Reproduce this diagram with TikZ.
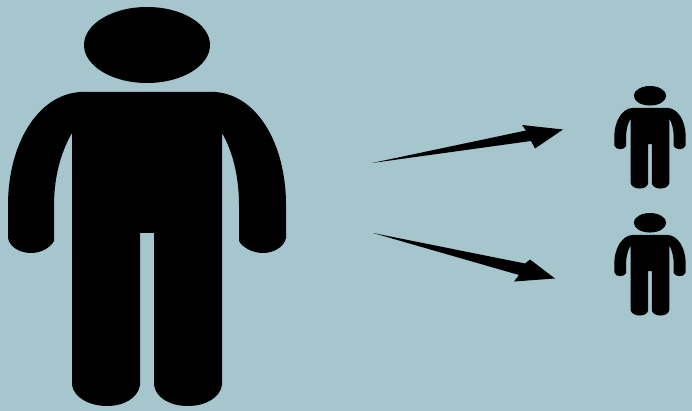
\documentclass[tikz,border=0pt]{standalone}
\usepackage{tikz}
\usetikzlibrary{arrows.meta,positioning,calc}
\definecolor{bgblue}{RGB}{166,198,206}

\begin{document}
\begin{tikzpicture}[x=1pt,y=-1pt]
\tikzstyle{fig}=[fill=black,draw=none]
\fill[bgblue] (0,0) rectangle (692,411);
\useasboundingbox (0,0) rectangle (692,411);
% big person first, then the two small ones
\foreach \dx/\dy/\s in {0/0/1,612.2/84.2/0.257,612.2/211.2/0.257}{
\begin{scope}[shift={(\dx,\dy)},scale=\s]
\fill[fig] (147,45) ellipse [x radius=63,y radius=38];
\fill[fig] (80,92) -- (215,92)
  .. controls (258,95) and (286,145) .. (286,205) -- (286,238)
  .. controls (284,248) and (272,253) .. (263,253)
  .. controls (253,253) and (243,248) .. (239,241) -- (239,205)
  .. controls (239,175) and (232,150) .. (222,133) -- (222,385)
  .. controls (220,398) and (205,406) .. (188,406)
  .. controls (170,406) and (156,398) .. (154,385) -- (154,233) -- (140,233) -- (140,385)
  .. controls (138,398) and (124,406) .. (107,406)
  .. controls (90,406) and (74,398) .. (72,385) -- (72,133)
  .. controls (62,150) and (54,175) .. (54,205) -- (54,241)
  .. controls (50,248) and (41,253) .. (31,253)
  .. controls (21,253) and (10,248) .. (8,238) -- (8,205)
  .. controls (8,145) and (37,95) .. (80,92) -- cycle;
\end{scope}
}
% arrows
\fill[fig] (372,163) -- (526,130.5) -- (522,125) -- (563,129.5) -- (535,148.5) -- (531,141) -- cycle;
\fill[fig] (373,233) -- (525,263.5) -- (530,259.5) -- (555,278.5) -- (514,281.5) -- (519,275) -- cycle;
\end{tikzpicture}
\end{document}
